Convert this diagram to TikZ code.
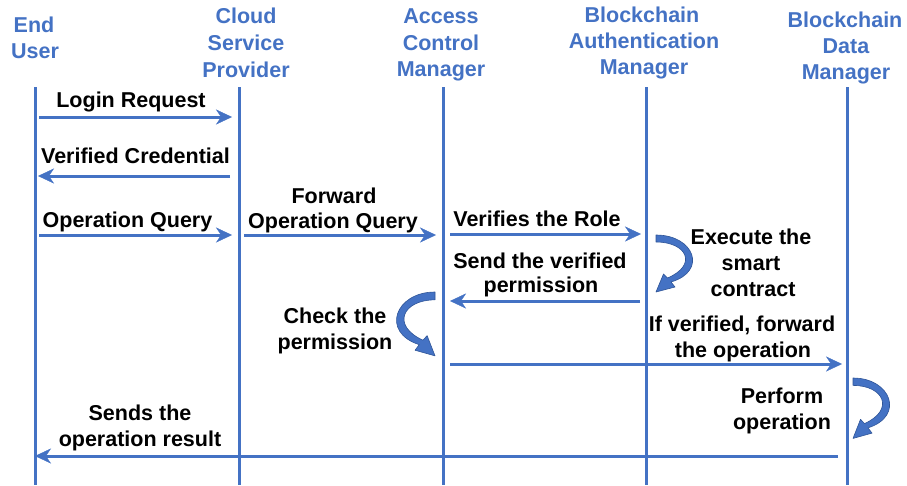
\documentclass[tikz,border=0pt]{standalone}
\usepackage{fontspec}
\setmainfont{Liberation Sans}
\usetikzlibrary{arrows.meta}
\definecolor{pblue}{HTML}{4472C4}
\definecolor{pdark}{HTML}{2F5597}
\begin{document}
\begin{tikzpicture}[x=1pt,y=-1pt,
  hdr/.style={anchor=base, inner sep=0pt, text=pblue, font=\fontsize{21.5}{26}\selectfont\bfseries},
  lbl/.style={anchor=base, inner sep=0pt, text=black, font=\fontsize{21.5}{26}\selectfont\bfseries},
  life/.style={draw=pblue, line width=3pt},
  msg/.style={draw=pblue, line width=3pt, -{Stealth[length=16pt,width=15pt,inset=5pt,line width=0.3pt]}},
  curv/.style={fill=pblue, draw=pdark, line width=0.6pt, line join=round}]
\useasboundingbox (0,0) rectangle (907,485);

% headers
\node[hdr] (eu1) at (34,32) {End};
\node[hdr] (eu2) at (35,58) {User};
\node[hdr] (csp1) at (246,23) {Cloud};
\node[hdr] (csp2) at (246,50) {Service};
\node[hdr] (csp3) at (246,77) {Provider};
\node[hdr] (acm1) at (441,23) {Access};
\node[hdr] (acm2) at (441,50) {Control};
\node[hdr] (acm3) at (441,76) {Manager};
\node[hdr] (bam1) at (642,22) {Blockchain};
\node[hdr] (bam2) at (644,48) {Authentication};
\node[hdr] (bam3) at (644,74) {Manager};
\node[hdr] (bdm1) at (845,27) {Blockchain};
\node[hdr] (bdm2) at (846,53) {Data};
\node[hdr] (bdm3) at (846,79) {Manager};

% lifelines
\coordinate (euT) at (35,87);   \coordinate (euB) at (35,485);
\coordinate (cspT) at (239,87); \coordinate (cspB) at (239,485);
\coordinate (acmT) at (443,87); \coordinate (acmB) at (443,485);
\coordinate (bamT) at (646,87); \coordinate (bamB) at (646,485);
\coordinate (bdmT) at (847,87); \coordinate (bdmB) at (847,485);
\draw[life] (euT) -- (euB);
\draw[life] (cspT) -- (cspB);
\draw[life] (acmT) -- (acmB);
\draw[life] (bamT) -- (bamB);
\draw[life] (bdmT) -- (bdmB);

% message end points
\coordinate (m1a) at (39,117);  \coordinate (m1b) at (232,117);
\coordinate (m2a) at (230,176); \coordinate (m2b) at (38,176);
\coordinate (m3a) at (39,235);  \coordinate (m3b) at (232,235);
\coordinate (m4a) at (244,235); \coordinate (m4b) at (436,235);
\coordinate (m5a) at (450,234); \coordinate (m5b) at (641,234);
\coordinate (m6a) at (640,301); \coordinate (m6b) at (450,301);
\coordinate (m7a) at (450,364); \coordinate (m7b) at (842,364);
\coordinate (m8a) at (838,456); \coordinate (m8b) at (35,456);

\draw[msg] (m1a) -- (m1b);
\draw[msg] (m2a) -- (m2b);
\draw[msg] (m3a) -- (m3b);
\draw[msg] (m4a) -- (m4b);
\draw[msg] (m5a) -- (m5b);
\draw[msg] (m6a) -- (m6b);
\draw[msg] (m7a) -- (m7b);
\draw[msg] (m8a) -- (m8b);

% labels
\node[lbl] (l1) at (131,107) {Login Request};
\node[lbl] (l2) at (135.5,163) {Verified Credential};
\node[lbl] (l3) at (127.5,227) {Operation Query};
\node[lbl] (l4a) at (334,203) {Forward};
\node[lbl] (l4b) at (333,228) {Operation Query};
\node[lbl] (l5) at (537,226) {Verifies the Role};
\node[lbl] (l6a) at (540,268) {Send the verified};
\node[lbl] (l6b) at (541,292) {permission};
\node[lbl] (l7a) at (751,244) {Execute the};
\node[lbl] (l7b) at (751,270) {smart};
\node[lbl] (l7c) at (753,296) {contract};
\node[lbl] (l8a) at (335,323) {Check the};
\node[lbl] (l8b) at (335,349) {permission};
\node[lbl] (l9a) at (742,331) {If verified, forward};
\node[lbl] (l9b) at (743,357) {the operation};
\node[lbl] (l10a) at (782,403) {Perform};
\node[lbl] (l10b) at (782,429) {operation};
\node[lbl] (l11a) at (140,420) {Sends the};
\node[lbl] (l11b) at (140,446) {operation result};

% curved self arrows
\def\curvedarrow{(0,0) .. controls (38,0) and (52,36) .. (15,47) -- (19,52) -- (0,57) -- (7.5,39) -- (11.5,43) .. controls (42,30) and (31,7) .. (0,7) -- cycle}
\path[curv, shift={(656,235)}] \curvedarrow;
\path[curv, shift={(853,378)}, yscale=1.06] \curvedarrow;
\path[curv, shift={(435,292)}, xscale=-1.05, yscale=1.12] \curvedarrow;
\end{tikzpicture}
\end{document}
